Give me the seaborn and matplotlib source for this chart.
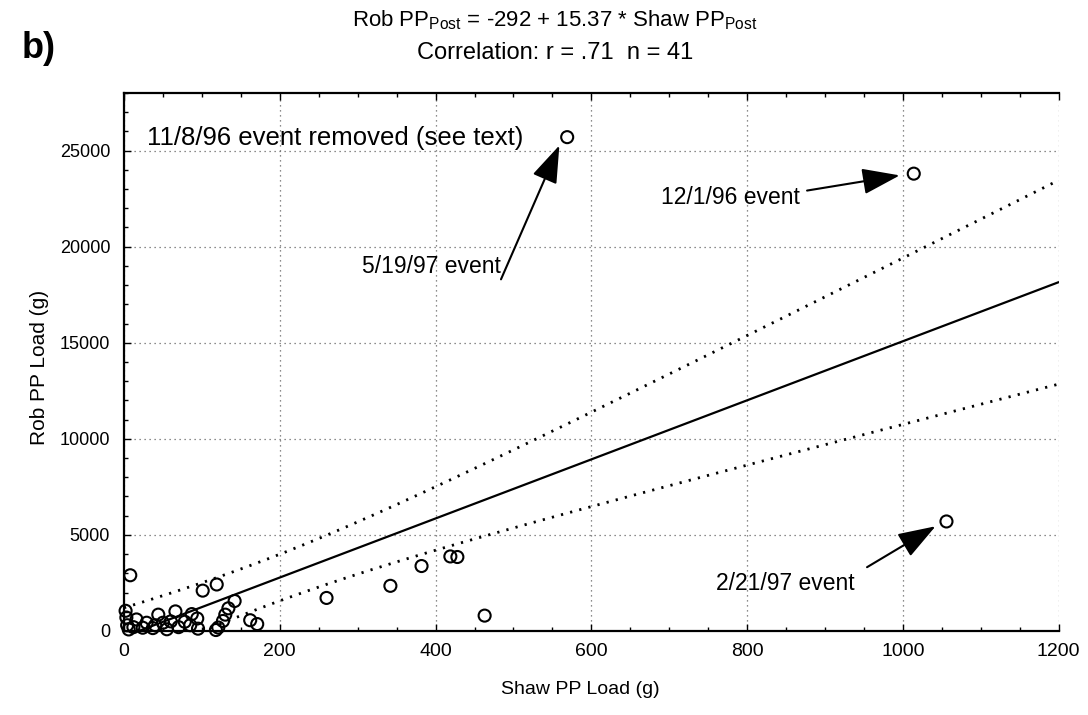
import numpy as np
import seaborn as sns
import matplotlib.pyplot as plt
from matplotlib import font_manager
from matplotlib.ticker import MultipleLocator

# Event loads of particulate phosphorus (g) at the two stations
shaw_pp = [569, 1014, 1056,
           260, 342, 382, 419, 428, 463, 162, 171,
           8, 101, 119, 142, 134,
           2, 3, 4, 12, 24, 29, 37, 44, 50, 66, 70, 78, 87, 94, 95,
           130, 127, 121, 118, 55, 40, 85, 16, 6, 60]
rob_pp = [25700, 23800, 5700,
          1720, 2350, 3380, 3880, 3850, 800, 560, 360,
          2900, 2100, 2420, 1560, 1180,
          1050, 700, 300, 200, 170, 430, 150, 850, 430, 1020, 200, 480, 880, 650, 120,
          850, 520, 180, 50, 90, 300, 300, 600, 80, 500]

# Published regression and correlation
intercept = -292
slope = 15.37
r_value = ".71"
t_crit = 2.023  # two-sided 95 %, n - 2 = 39 df

x_ticks = [0, 200, 400, 600, 800, 1000, 1200]
y_ticks = [0, 5000, 10000, 15000, 20000, 25000]

events = ["5/19/97 event", "12/1/96 event", "2/21/97 event"]

sns.set_theme(style="ticks")
fams = {f.name for f in font_manager.fontManager.ttflist}
base = "Liberation Sans"
narrow = "Liberation Sans Narrow" if "Liberation Sans Narrow" in fams else base
plt.rcParams["font.family"] = [base, "DejaVu Sans"]
plt.rcParams["mathtext.fontset"] = "custom"
plt.rcParams["mathtext.rm"] = narrow
plt.rcParams["mathtext.it"] = narrow
plt.rcParams["axes.labelcolor"] = "black"
plt.rcParams["text.color"] = "black"

fig = plt.figure(figsize=(10.88, 7.15), dpi=100)
ax = fig.add_axes([0.114, 0.1175, 0.859, 0.7525])

# regression line with 95 % confidence band for the mean
shaw = np.asarray(shaw_pp, float)
rob = np.asarray(rob_pp, float)
n = len(shaw)
resid = rob - (intercept + slope * shaw)
s = np.sqrt(np.sum(resid ** 2) / (n - 2))
xbar = shaw.mean()
sxx = np.sum((shaw - xbar) ** 2)
xs = np.linspace(x_ticks[0], x_ticks[-1], 300)
fit = intercept + slope * xs
half = t_crit * s * np.sqrt(1 / n + (xs - xbar) ** 2 / sxx)

sns.lineplot(x=xs, y=fit, color="black", lw=1.6, ax=ax, zorder=3)
for band in (fit + half, fit - half):
    sns.lineplot(x=xs, y=band, color="black", lw=2.0,
                 linestyle=(0, (0.8, 2.6)), ax=ax, zorder=3)

sns.scatterplot(x=shaw, y=rob, marker="o", s=75, facecolors="none",
                edgecolor="black", linewidth=1.5, ax=ax, zorder=4,
                clip_on=False)

ax.set_xlim(x_ticks[0], x_ticks[-1])
ax.set_ylim(0, 28000)
ax.set_xticks(x_ticks)
ax.set_yticks(y_ticks)
ax.set_xticklabels([str(v) for v in x_ticks])
ax.set_yticklabels([str(v) for v in y_ticks])
ax.xaxis.set_minor_locator(MultipleLocator(50))
ax.yaxis.set_minor_locator(MultipleLocator(1000))
ax.tick_params(which="both", direction="in", top=True, right=False,
               colors="black", width=1.0)
ax.tick_params(which="major", length=5)
ax.tick_params(which="minor", length=3)
ax.tick_params(axis="y", pad=10, labelsize=13)
ax.tick_params(axis="x", pad=9, labelsize=14)
ax.grid(True, which="major", color="#666666", lw=0.9, linestyle=(0, (1, 3)))
for side in ("left", "bottom", "top"):
    ax.spines[side].set_linewidth(1.6)
    ax.spines[side].set_color("black")
ax.spines["right"].set_visible(False)

ax.set_xlabel("Shaw PP Load (g)", fontsize=14, ha="center", va="center")
ax.set_ylabel("Rob PP Load (g)", fontsize=15, ha="center", va="center")
ax.xaxis.set_label_coords(0.488, -0.108)
ax.yaxis.set_label_coords(-0.090, 0.49)

ax.text(30, 25640, "11/8/96 event removed (see text)", ha="left",
        va="center", fontsize=18.5)

arrow = dict(arrowstyle="-|>,head_length=1.3,head_width=0.45", color="black",
             lw=1.5, shrinkA=0, shrinkB=0, mutation_scale=18)
label_pos = [(484, 18980), (868, 22550), (938, 2480)]
tails = [(484, 18300), (877, 22920), (954, 3320)]
tips = [(559, 25270), (996, 23710), (1042, 5450)]
for name, lp, tail, tip in zip(events, label_pos, tails, tips):
    ax.text(lp[0], lp[1], name, ha="right", va="center", fontsize=16.5)
    ax.annotate("", xy=tip, xytext=tail, arrowprops=arrow)

fig.text(0.51, 0.972,
         r"Rob PP$_{\mathrm{Post}}$ = %d + %.2f * Shaw PP$_{\mathrm{Post}}$" % (intercept, slope),
         ha="center", va="center", fontsize=16, family=[narrow, "DejaVu Sans"])
fig.text(0.51, 0.926, "Correlation: r = %s  n = %d" % (r_value, n),
         ha="center", va="center", fontsize=17, family=[narrow, "DejaVu Sans"])
fig.text(0.02, 0.932, "b)", ha="left", va="center", fontsize=26,
         fontweight="bold")

fig.savefig("out.png", dpi=100)
